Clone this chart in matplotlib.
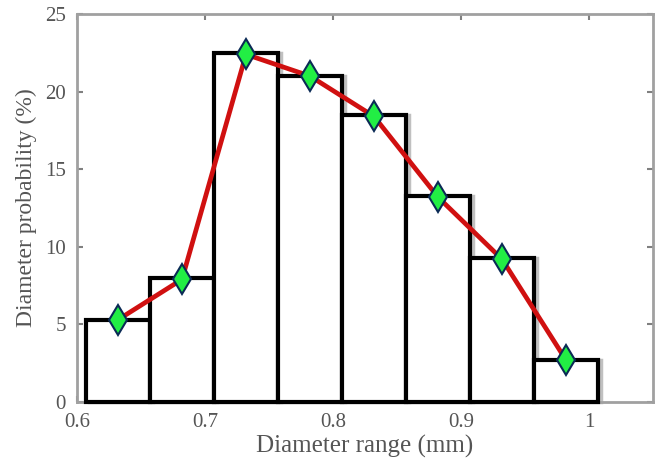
import matplotlib.pyplot as plt
import numpy as np

centers = [0.632, 0.682, 0.732, 0.782, 0.832, 0.882, 0.932, 0.982]
bar_heights = [5.3, 8.0, 22.5, 21.0, 18.5, 13.3, 9.3, 2.7]
curve_values = [5.3, 7.9, 22.4, 21.0, 18.4, 13.2, 9.2, 2.7]
bin_width = 0.05
x_ticks = [0.6, 0.7, 0.8, 0.9, 1.0]
x_tick_labels = ["0.6", "0.7", "0.8", "0.9", "1"]
y_ticks = [0, 5, 10, 15, 20, 25]

plt.rcParams["font.family"] = ["Liberation Serif", "DejaVu Serif"]

fig = plt.figure(figsize=(6.61, 4.70), dpi=100)
ax = fig.add_axes([0.1165, 0.1447, 0.8715, 0.8255])

# faint grey shadow, then the black outlined bars
ax.bar(np.array(centers) + 0.002, bar_heights, width=bin_width, facecolor="none",
       edgecolor="#c0c0c0", linewidth=2.5, zorder=2, clip_on=False)
ax.bar(centers, bar_heights, width=bin_width, facecolor="white",
       edgecolor="black", linewidth=3, zorder=3, clip_on=False)

ax.plot(centers, curve_values, color="#d01010", linewidth=3.4, zorder=4,
        marker="d", markersize=15, markerfacecolor="#22ee44",
        markeredgecolor="#0a2a55", markeredgewidth=1.5, clip_on=False)

ax.set_xlim(0.6, 1.05)
ax.set_ylim(0, 25)
ax.set_xticks(x_ticks)
ax.set_xticklabels(x_tick_labels)
ax.set_yticks(y_ticks)

for spine in ax.spines.values():
    spine.set_color("#a0a0a0")
    spine.set_linewidth(2)
ax.tick_params(direction="in", top=True, right=True, length=4, width=1.5,
               color="#808080", labelsize=15, labelcolor="#555555", pad=8)

ax.set_xlabel("Diameter range (mm)", fontsize=18, color="#555555", labelpad=2)
ax.set_ylabel("Diameter probability (%)", fontsize=17, color="#555555", labelpad=6)

fig.savefig("out.png", dpi=100)
